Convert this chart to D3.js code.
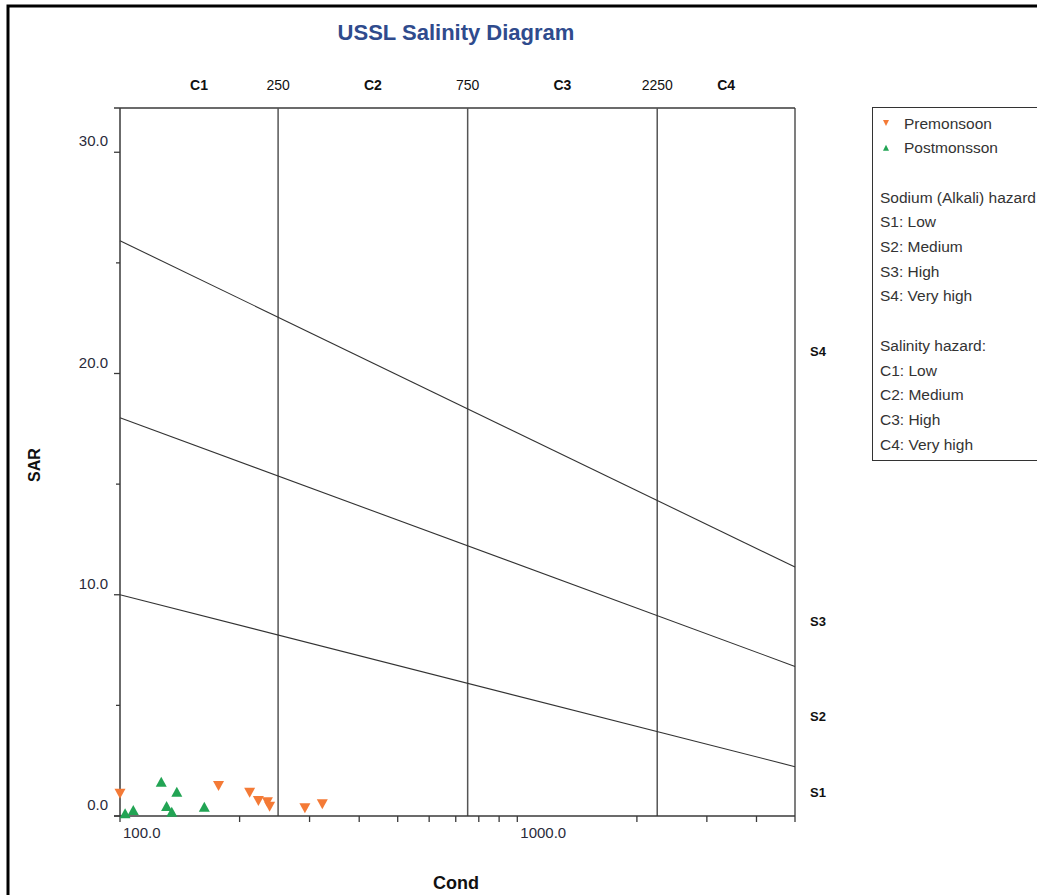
<!DOCTYPE html>
<html>
<head>
<meta charset="utf-8">
<script src="https://cdn.jsdelivr.net/npm/d3@7"></script>
<style>
  html, body { margin: 0; padding: 0; background: #fff; overflow: hidden; }
  svg { display: block; font-family: "Liberation Sans", Arial, sans-serif; }
</style>
</head>
<body>
<script>
// ---- data ----
const preCond = [100, 177, 212, 223, 235, 238, 292, 323];
const preSAR  = [1.01, 1.36, 1.05, 0.68, 0.62, 0.42, 0.35, 0.53];
const postCond = [127, 139, 131, 135, 163, 103, 108];
const postSAR  = [1.55, 1.10, 0.45, 0.19, 0.42, 0.12, 0.27];

const condBounds = [250, 750, 2250];
const condClassLabels = ["C1", "C2", "C3", "C4"];
const sarLineLeft  = [10, 18, 26];      // SAR at Cond = 100
const sarLineRight = [2.23, 6.76, 11.25]; // SAR at Cond = 5000
const sodiumLabels = ["S1", "S2", "S3", "S4"];
const sodiumLabelSAR = [1.1, 4.5, 8.8, 21.0];

const yMajorTicks = [0, 10, 20, 30];
const yMinorTicks = [5, 15, 25];
const xMajorTicks = [100, 1000];
const xMinorTicks = [200, 300, 400, 500, 600, 700, 800, 900, 2000, 3000, 4000, 5000];

const seriesNames = ["Premonsoon", "Postmonsson"];
const legendText = ["Sodium (Alkali) hazard:", "S1: Low", "S2: Medium", "S3: High", "S4: Very high",
                    "", "Salinity hazard:", "C1: Low", "C2: Medium", "C3: High", "C4: Very high"];

const colPre = "#f47a36", colPost = "#22a454";

// ---- layout ----
const W = 1037, H = 895;
const L = 120, R = 795, T = 108, B = 816;
const condMin = 100, condMax = 5000, sarMax = 32;

const svg = d3.select("body").append("svg").attr("width", W).attr("height", H);

// outer frame
svg.append("rect").attr("x", 8).attr("y", 6).attr("width", W + 20).attr("height", H + 20)
  .attr("fill", "none").attr("stroke", "#000").attr("stroke-width", 3);

const x = d3.scaleLog().domain([condMin, condMax]).range([L, R]);
const y = d3.scaleLinear().domain([0, sarMax]).range([B, T]);

// title
svg.append("text").attr("x", 456).attr("y", 40).attr("text-anchor", "middle")
  .attr("font-size", 22).attr("font-weight", "bold").attr("fill", "#2f4b8d")
  .text("USSL Salinity Diagram");

const axisCol = "#3a3a3a";
const labCol = "#2a2a3a";

// top frame line and right frame
svg.append("line").attr("x1", L - 6).attr("x2", R).attr("y1", T).attr("y2", T)
  .attr("stroke", axisCol).attr("stroke-width", 1.3);
svg.append("line").attr("x1", R).attr("x2", R).attr("y1", T).attr("y2", B)
  .attr("stroke", axisCol).attr("stroke-width", 1.3);

// vertical salinity boundaries
svg.selectAll(".vb").data(condBounds).enter().append("line")
  .attr("x1", d => x(d)).attr("x2", d => x(d)).attr("y1", T).attr("y2", B)
  .attr("stroke", "#555").attr("stroke-width", 1.5);

// diagonal sodium lines
svg.selectAll(".dl").data(sarLineLeft).enter().append("line")
  .attr("x1", x(condMin)).attr("y1", d => y(d))
  .attr("x2", x(condMax)).attr("y2", (d, i) => y(sarLineRight[i]))
  .attr("stroke", "#333").attr("stroke-width", 1.1);

// top labels
svg.selectAll(".cb").data(condBounds).enter().append("text")
  .attr("x", d => x(d)).attr("y", 90).attr("text-anchor", "middle")
  .attr("font-size", 14).attr("fill", "#111").text(d => d);
const cEdges = [condMin].concat(condBounds, [condMax]);
svg.selectAll(".cl").data(condClassLabels).enter().append("text")
  .attr("x", (d, i) => x(Math.sqrt(cEdges[i] * cEdges[i + 1]))).attr("y", 90)
  .attr("text-anchor", "middle").attr("font-size", 14).attr("font-weight", "bold")
  .attr("fill", "#111").text(d => d);

// right S labels
svg.selectAll(".sl").data(sodiumLabels).enter().append("text")
  .attr("x", 810).attr("y", (d, i) => y(sodiumLabelSAR[i]) + 5)
  .attr("font-size", 13).attr("font-weight", "bold").attr("fill", "#111").text(d => d);

// y axis
svg.append("line").attr("x1", L).attr("x2", L).attr("y1", T).attr("y2", B)
  .attr("stroke", axisCol).attr("stroke-width", 1.5);
svg.selectAll(".ymaj").data(yMajorTicks).enter().append("line")
  .attr("x1", L - 6).attr("x2", L).attr("y1", d => y(d)).attr("y2", d => y(d))
  .attr("stroke", axisCol).attr("stroke-width", 1.3);
svg.selectAll(".ymin").data(yMinorTicks).enter().append("line")
  .attr("x1", L - 4).attr("x2", L).attr("y1", d => y(d)).attr("y2", d => y(d))
  .attr("stroke", axisCol).attr("stroke-width", 1.3);
svg.selectAll(".ylab").data(yMajorTicks).enter().append("text")
  .attr("x", 108).attr("y", d => y(d) - 6).attr("text-anchor", "end")
  .attr("font-size", 15).attr("fill", labCol).text(d => d3.format(".1f")(d));

// x axis
svg.append("line").attr("x1", L - 6).attr("x2", R).attr("y1", B).attr("y2", B)
  .attr("stroke", axisCol).attr("stroke-width", 1.5);
svg.selectAll(".xt").data(xMajorTicks.concat(xMinorTicks)).enter().append("line")
  .attr("x1", d => x(d)).attr("x2", d => x(d)).attr("y1", B).attr("y2", B + 6)
  .attr("stroke", axisCol).attr("stroke-width", 1.3);
svg.selectAll(".xlab").data(xMajorTicks).enter().append("text")
  .attr("x", d => x(d) + 3).attr("y", 838).attr("text-anchor", "start")
  .attr("font-size", 15).attr("fill", labCol).text(d => d3.format(".1f")(d));

// axis titles
svg.append("text").attr("x", 456).attr("y", 889).attr("text-anchor", "middle")
  .attr("font-size", 18).attr("font-weight", "bold").attr("fill", "#111").text("Cond");
svg.append("text").attr("transform", "translate(40,465) rotate(-90)").attr("text-anchor", "middle")
  .attr("font-size", 16).attr("font-weight", "bold").attr("fill", "#111").text("SAR");

// markers
function tri(up, w, h) {
  const a = w / 2, b = h / 2;
  return up ? `M${-a},${b}L${a},${b}L0,${-b}Z` : `M${-a},${-b}L${a},${-b}L0,${b}Z`;
}
const pre = preCond.map((c, i) => ({c, s: preSAR[i]}));
const post = postCond.map((c, i) => ({c, s: postSAR[i]}));
svg.selectAll(".pre").data(pre).enter().append("path")
  .attr("d", tri(false, 11, 10)).attr("fill", colPre)
  .attr("transform", d => `translate(${x(d.c)},${y(d.s)})`);
svg.selectAll(".post").data(post).enter().append("path")
  .attr("d", tri(true, 11, 10)).attr("fill", colPost)
  .attr("transform", d => `translate(${x(d.c)},${y(d.s)})`);

// legend
const lg = svg.append("g");
lg.append("rect").attr("x", 872.5).attr("y", 107.5).attr("width", 200).attr("height", 353)
  .attr("fill", "#fff").attr("stroke", "#333").attr("stroke-width", 1);
const rowY = i => 123 + i * 24.7;
lg.append("path").attr("d", tri(false, 6, 6)).attr("fill", colPre)
  .attr("transform", `translate(886,${rowY(0)})`);
lg.append("path").attr("d", tri(true, 6, 6)).attr("fill", colPost)
  .attr("transform", `translate(886,${rowY(1)})`);
lg.selectAll(".sn").data(seriesNames).enter().append("text")
  .attr("x", 904).attr("y", (d, i) => rowY(i) + 5.5).attr("font-size", 15.5).attr("fill", "#333").text(d => d);
lg.selectAll(".lt").data(legendText).enter().append("text")
  .attr("x", 880).attr("y", (d, i) => rowY(i + 3) + 5.5).attr("font-size", 15.5).attr("fill", "#333").text(d => d);
</script>
</body>
</html>
